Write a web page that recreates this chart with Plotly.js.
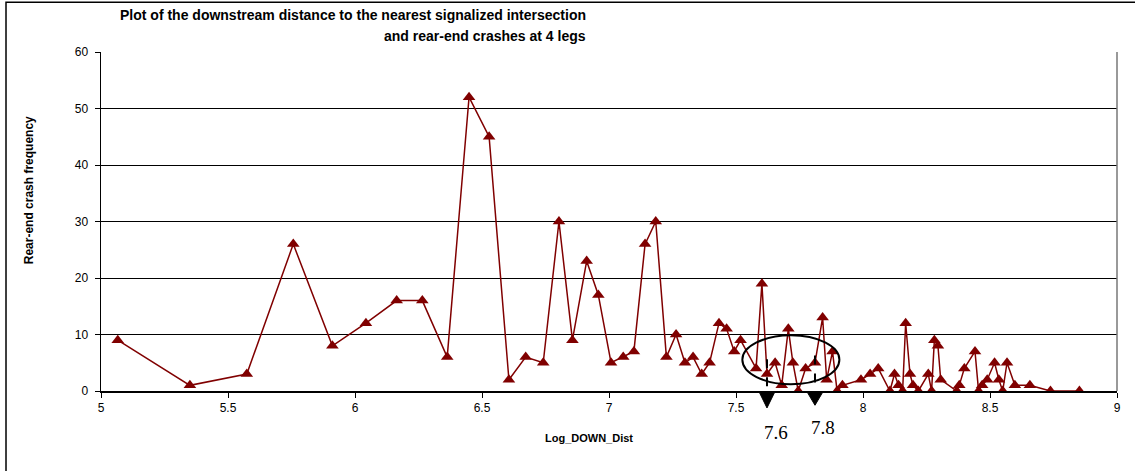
<!DOCTYPE html>
<html>
<head>
<meta charset="utf-8">
<script src="https://cdn.plot.ly/plotly-3.0.1.min.js"></script>
<style>html,body{margin:0;padding:0;background:#fff;}#chart{width:1135px;height:471px;}</style>
</head>
<body>
<div id="chart"></div>
<script>
// Log of downstream distance to nearest signalized intersection
var logDownDist = [
  5.066, 5.350, 5.574, 5.757, 5.911, 6.043, 6.164, 6.265, 6.363, 6.449,
  6.528, 6.606, 6.672, 6.741, 6.803, 6.856, 6.912, 6.958, 7.008, 7.056,
  7.098, 7.142, 7.184, 7.226, 7.264, 7.299, 7.331, 7.365, 7.396, 7.433,
  7.463, 7.493, 7.518, 7.579, 7.602, 7.622, 7.654, 7.680, 7.706, 7.724,
  7.745, 7.774, 7.811, 7.841, 7.857, 7.880, 7.898, 7.919, 7.992, 8.028,
  8.060, 8.106, 8.124, 8.140, 8.156, 8.168, 8.185, 8.197, 8.218, 8.257,
  8.270, 8.281, 8.295, 8.306, 8.369, 8.379, 8.399, 8.441, 8.455, 8.469,
  8.489, 8.518, 8.535, 8.550, 8.567, 8.598, 8.657, 8.738, 8.852
];
// Rear-end crash frequency
var rearEndCrashes = [
  9, 1, 3, 26, 8, 12, 16, 16, 6, 52,
  45, 2, 6, 5, 30, 9, 23, 17, 5, 6,
  7, 26, 30, 6, 10, 5, 6, 3, 5, 12,
  11, 7, 9, 4, 19, 3, 5, 1, 11, 5,
  0, 4, 5, 13, 2, 7, 0, 1, 2, 3,
  4, 0, 3, 1, 0, 12, 3, 1, 0, 3,
  0, 9, 8, 2, 0, 1, 4, 7, 0, 1,
  2, 5, 2, 0, 5, 1, 1, 0, 0
];
var titleLines = ["Plot of the downstream distance to the nearest signalized intersection",
                  "and rear-end crashes at 4 legs"];
var xTitle = "Log_DOWN_Dist";
var yTitle = "Rear-end crash frequency";
var markLabels = ["7.6", "7.8"];
var markX = [7.622, 7.811];      // arrow positions on the x axis
var dashTop = [5.6, 6.3];        // top of dashed guide lines (y data)

var red = '#800000';
var font = 'Arial, "Liberation Sans", sans-serif';

var trace = {
  x: logDownDist, y: rearEndCrashes, type: 'scatter', mode: 'lines+markers',
  line: {color: red, width: 1.5},
  marker: {symbol: 'triangle-up', size: 11, color: red},
  hoverinfo: 'x+y', showlegend: false
};

var shapes = [
  // outer chart frame
  {type: 'rect', xref: 'paper', yref: 'paper', x0: -0.0935, x1: 1.03, y0: -0.26, y1: 1.1466,
   line: {color: '#000', width: 1.5}, layer: 'below'},
  // right plot border
  {type: 'line', xref: 'paper', yref: 'paper', x0: 1, x1: 1, y0: 0, y1: 1,
   line: {color: '#777', width: 1.5}},
  // ellipse
  {type: 'circle', xref: 'x', yref: 'y', x0: 7.525, x1: 7.907, y0: 1.2, y1: 9.86,
   line: {color: '#000', width: 2}}
];
var hw = 0.03;
for (var i = 0; i < markX.length; i++) {
  shapes.push({type: 'line', xref: 'x', yref: 'y', x0: markX[i], x1: markX[i], y0: dashTop[i], y1: 0,
    line: {color: '#000', width: 2, dash: 'dash'}});
  var tipY = i === 0 ? -0.05 : -0.042;
  shapes.push({type: 'path', xref: 'x', yref: 'paper',
    path: 'M ' + (markX[i] - hw) + ',-0.004 L ' + (markX[i] + hw) + ',-0.004 L ' + markX[i] + ',' + tipY + ' Z',
    fillcolor: '#000', line: {color: '#000', width: 1}});
}

var annotations = [
  {text: '<b>' + titleLines[0] + '</b>', xref: 'paper', yref: 'paper', x: 0.4793, y: 1.108,
   xanchor: 'right', yanchor: 'middle', showarrow: false, font: {family: font, size: 14, color: '#000'}},
  {text: '<b>' + titleLines[1] + '</b>', xref: 'paper', yref: 'paper', x: 0.4793, y: 1.046,
   xanchor: 'right', yanchor: 'middle', showarrow: false, font: {family: font, size: 14, color: '#000'}},
  {text: '<b>' + xTitle + '</b>', xref: 'paper', yref: 'paper', x: 0.4803, y: -0.138,
   xanchor: 'center', yanchor: 'middle', showarrow: false, font: {family: font, size: 11, color: '#000'}},
  {text: '<b>' + yTitle + '</b>', xref: 'paper', yref: 'paper', x: -0.0709, y: 0.592, textangle: -90,
   xanchor: 'center', yanchor: 'middle', showarrow: false, font: {family: font, size: 12, color: '#000'}},
  {text: markLabels[0], xref: 'x', yref: 'paper', x: 7.657, y: -0.122,
   xanchor: 'center', yanchor: 'middle', showarrow: false,
   font: {family: '"Liberation Serif", "Times New Roman", serif', size: 19, color: '#000'}},
  {text: markLabels[1], xref: 'x', yref: 'paper', x: 7.843, y: -0.107,
   xanchor: 'center', yanchor: 'middle', showarrow: false,
   font: {family: '"Liberation Serif", "Times New Roman", serif', size: 19, color: '#000'}}
];

var layout = {
  width: 1135, height: 471,
  margin: {l: 101, r: 18, t: 52, b: 80, pad: 0},
  paper_bgcolor: '#fff', plot_bgcolor: '#fff',
  font: {family: font, size: 12, color: '#000'},
  xaxis: {range: [5, 9], dtick: 0.5, tick0: 5, showgrid: false, zeroline: false,
          showline: true, linecolor: '#000', linewidth: 1.5,
          ticks: 'outside', ticklen: 5, tickcolor: '#000', tickfont: {family: font, size: 12, color: '#000'}},
  yaxis: {range: [0, 60], dtick: 10, tick0: 0, showgrid: true, gridcolor: '#000', gridwidth: 1,
          zeroline: false, showline: true, linecolor: '#000', linewidth: 1.5,
          ticks: 'outside', ticklen: 5, tickcolor: '#000', ticklabelstandoff: 4,
          tickfont: {family: font, size: 12, color: '#000'}},
  shapes: shapes,
  annotations: annotations,
  showlegend: false
};

Plotly.newPlot('chart', [trace], layout, {staticPlot: true, displayModeBar: false});
</script>
</body>
</html>
